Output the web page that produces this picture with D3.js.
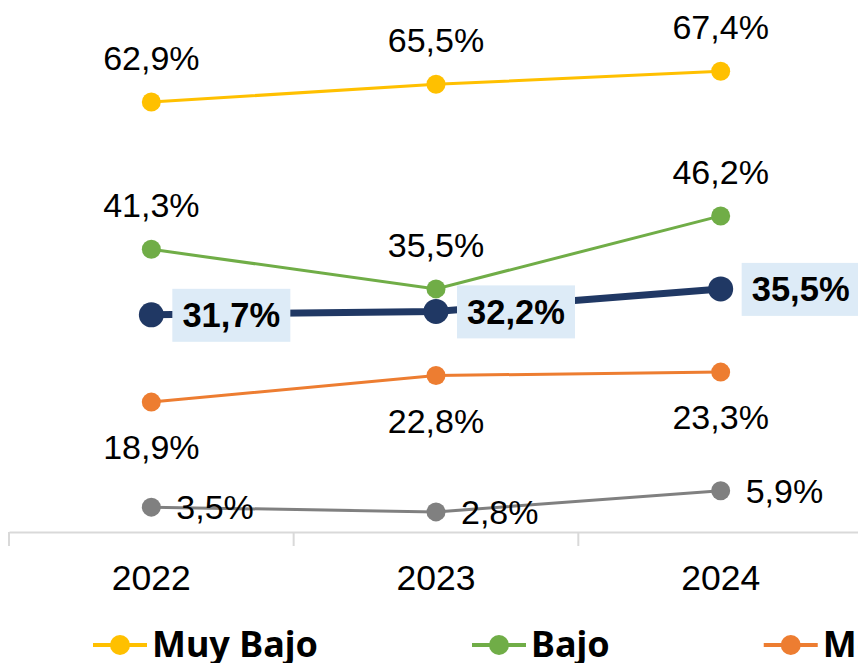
<!DOCTYPE html>
<html lang="es">
<head>
<meta charset="UTF-8">
<script src="https://d3js.org/d3.v7.min.js"></script>
<title>Chart</title>
<style>
    body { margin: 0; background: #fff; }
    svg { display: block; font-family: "Liberation Sans", Arial, sans-serif; }
</style>
</head>
<body>
<svg width="858" height="663" id="chart"></svg>
<script>
    // data
    const years = ["2022", "2023", "2024"];
    const muyBajo = [62.9, 65.5, 67.4];
    const bajo = [41.3, 35.5, 46.2];
    const medio = [18.9, 22.8, 23.3];
    const alto = [3.5, 2.8, 5.9];
    const total = [31.7, 32.2, 35.5];
    const legendNames = ["Muy Bajo", "Bajo", "Medio"];

    let svg = d3.select("#chart");

    let x = d3.scaleBand().domain(years).range([9, 863]).padding(0);
    let y = d3.scaleLinear().domain([0, 100]).range([531, -151]);
    let cx = d => x(d) + x.bandwidth() / 2;

    // axis
    let axis = svg.append("g")
        .attr("transform", "translate(0,532)")
        .call(d3.axisBottom(x).tickSize(0).tickFormat(""));
    axis.select(".domain").attr("stroke", "#d9d9d9").attr("stroke-width", 2);
    axis.selectAll(".tick").remove();

    // tick marks between categories
    svg.selectAll(".sep")
        .data(years)
        .enter().append("line")
        .attr("x1", d => x(d)).attr("x2", d => x(d))
        .attr("y1", 532).attr("y2", 546)
        .attr("stroke", "#d9d9d9").attr("stroke-width", 2);

    svg.selectAll(".yr")
        .data(years)
        .enter().append("text")
        .attr("x", d => cx(d))
        .attr("y", 590)
        .attr("text-anchor", "middle")
        .attr("style", "font-size: 35.5px;")
        .text(d => d);

    let fmt = v => v.toFixed(1).replace(".", ",") + "%";

    function drawSeries(values, color, width, r) {
        let pts = values.map((v, i) => [cx(years[i]), y(v)]);
        svg.append("path")
            .attr("d", d3.line()(pts))
            .attr("fill", "none")
            .attr("stroke", color)
            .attr("stroke-width", width);
        svg.selectAll(null)
            .data(pts)
            .enter().append("circle")
            .attr("cx", d => d[0]).attr("cy", d => d[1])
            .attr("r", r)
            .attr("fill", color);
    }

    // labels: pos = above / below / right
    function drawLabels(values, pos) {
        svg.selectAll(null)
            .data(values)
            .enter().append("text")
            .attr("x", (d, i) => pos == "right" ? cx(years[i]) + 25 : cx(years[i]))
            .attr("y", d => pos == "above" ? y(d) - 32 : pos == "below" ? y(d) + 57 : y(d) + 12)
            .attr("text-anchor", pos == "right" ? "start" : "middle")
            .attr("style", "font-size: 34px;")
            .attr("fill", "#000")
            .text(d => fmt(d));
    }

    drawSeries(muyBajo, "#FFC000", 3, 9.5);
    drawSeries(bajo, "#70AD47", 3, 9.5);
    drawSeries(medio, "#ED7D31", 3, 9.5);
    drawSeries(alto, "#808080", 3, 9.5);
    drawSeries(total, "#203864", 7, 12.5);

    drawLabels(muyBajo, "above");
    drawLabels(bajo, "above");
    drawLabels(medio, "below");
    drawLabels(alto, "right");

    // total labels with boxes
    total.forEach((v, i) => {
        let bx = cx(years[i]) + 21;
        svg.append("rect")
            .attr("x", bx).attr("y", y(v) - 26)
            .attr("width", 118).attr("height", 53)
            .attr("fill", "#DDEBF7");
        svg.append("text")
            .attr("x", bx + 59).attr("y", y(v) + 12.5)
            .attr("text-anchor", "middle")
            .attr("style", "font-size: 34.5px; font-weight: bold;")
            .text(fmt(v));
    });

    // legend
    const legendColors = ["#FFC000", "#70AD47", "#ED7D31"];
    let lx = 93;
    legendNames.forEach((name, i) => {
        svg.append("line")
            .attr("x1", lx).attr("x2", lx + 54)
            .attr("y1", 645).attr("y2", 645)
            .attr("stroke", legendColors[i]).attr("stroke-width", 4);
        svg.append("circle")
            .attr("cx", lx + 27).attr("cy", 645).attr("r", 10)
            .attr("fill", legendColors[i]);
        let t = svg.append("text")
            .attr("x", lx + 59).attr("y", 657)
            .attr("style", "font-family: 'Noto Sans', sans-serif; font-size: 36px; font-weight: bold;")
            .text(name);
        lx = lx + 59 + t.node().getComputedTextLength() + 154;
    });
</script>
</body>
</html>
